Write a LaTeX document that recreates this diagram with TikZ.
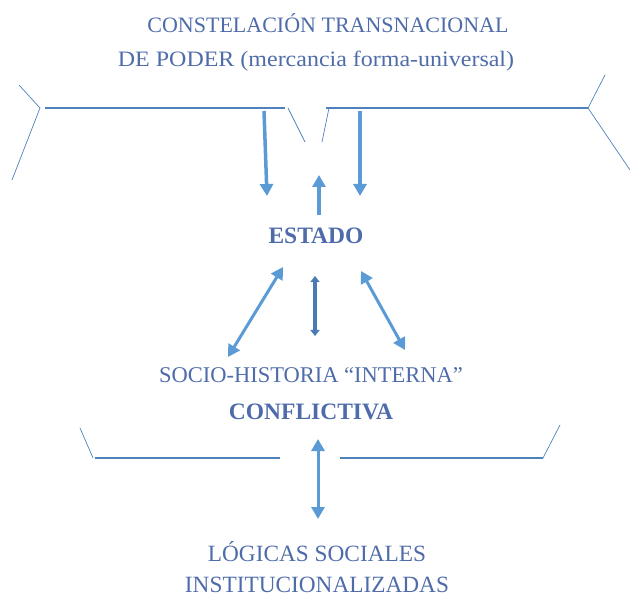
\documentclass[tikz,border=0pt]{standalone}
\usepackage{fontspec}
\setmainfont{Liberation Serif}
\usetikzlibrary{arrows.meta}

\definecolor{txtblue}{RGB}{79,108,170}
\definecolor{arrblue}{RGB}{91,155,213}
\definecolor{linblue}{RGB}{79,129,189}
\definecolor{midblue}{RGB}{72,122,180}

\tikzset{
    llave/.style={draw=linblue, line width=1.4pt},
    punta/.style={draw=linblue, line width=0.7pt},
    flecha/.style={draw=arrblue, line width=3.5pt, -{Triangle[length=12pt,width=13pt]}},
    doble/.style={draw=arrblue, line width=3pt, {Triangle[length=12pt,width=13pt]}-{Triangle[length=12pt,width=13pt]}},
    delgada/.style={draw=midblue, line width=3.5pt, {Triangle[length=6pt,width=9pt]}-{Triangle[length=6pt,width=9pt]}}
}

\begin{document}
\begin{tikzpicture}[x=1pt, y=-1pt, every node/.style={font=\fontsize{22}{34}\selectfont, text=txtblue, align=center}]
    \useasboundingbox (0,0) rectangle (630,596);

    % Texts
    \node (poder) at (316,42) {\hspace*{24pt}CONSTELACIÓN TRANSNACIONAL\\
        \scalebox{1.09}[1]{DE PODER (mercancia forma-universal)}};
    \node[font=\fontsize{23.5}{34}\selectfont\bfseries] (estado) at (316,236) {ESTADO};
    \node[font=\fontsize{22.5}{37}\selectfont] (socio) at (311,394) {SOCIO-HISTORIA “INTERNA”\\
        {\fontsize{23.5}{37}\selectfont\bfseries CONFLICTIVA}};
    \node[font=\fontsize{23.3}{31}\selectfont] (logicas) at (317,567) {LÓGICAS SOCIALES\\
        INSTITUCIONALIZADAS};

    % Upper brace
    \draw[punta] (19,85) -- (40,108) -- (12,180);
    \draw[llave] (45,108) -- (285,108);
    \draw[punta] (288,108) -- (305,142);
    \draw[punta] (322,142) -- (329,108);
    \draw[llave] (326,108) -- (588,108);
    \draw[punta] (605,75) -- (588,108) -- (630,170);

    % Lower brace
    \draw[punta] (80,428) -- (93,458);
    \draw[llave] (95,458) -- (280,458);
    \draw[llave] (340,458) -- (543,458);
    \draw[punta] (543,458) -- (560,425);

    % Arrow ends
    \coordinate (baja1) at (264,111);
    \coordinate (llega1) at (267,196);
    \coordinate (baja2) at (360,111);
    \coordinate (llega2) at (360,196);
    \coordinate (sube) at (319,215);
    \coordinate (hueco) at (319,175);
    \coordinate (izqA) at (283,267);
    \coordinate (izqB) at (228,357);
    \coordinate (medA) at (315,276);
    \coordinate (medB) at (315,336);
    \coordinate (derA) at (361,271);
    \coordinate (derB) at (405,350);
    \coordinate (abaA) at (318,439);
    \coordinate (abaB) at (318,519);

    % Arrows to and from the state
    \draw[flecha] (baja1) -- (llega1);
    \draw[flecha] (baja2) -- (llega2);
    \draw[flecha] (sube) -- (hueco);
    \draw[doble] (izqA) -- (izqB);
    \draw[delgada] (medA) -- (medB);
    \draw[doble] (derA) -- (derB);
    \draw[doble] (abaA) -- (abaB);
\end{tikzpicture}
\end{document}
